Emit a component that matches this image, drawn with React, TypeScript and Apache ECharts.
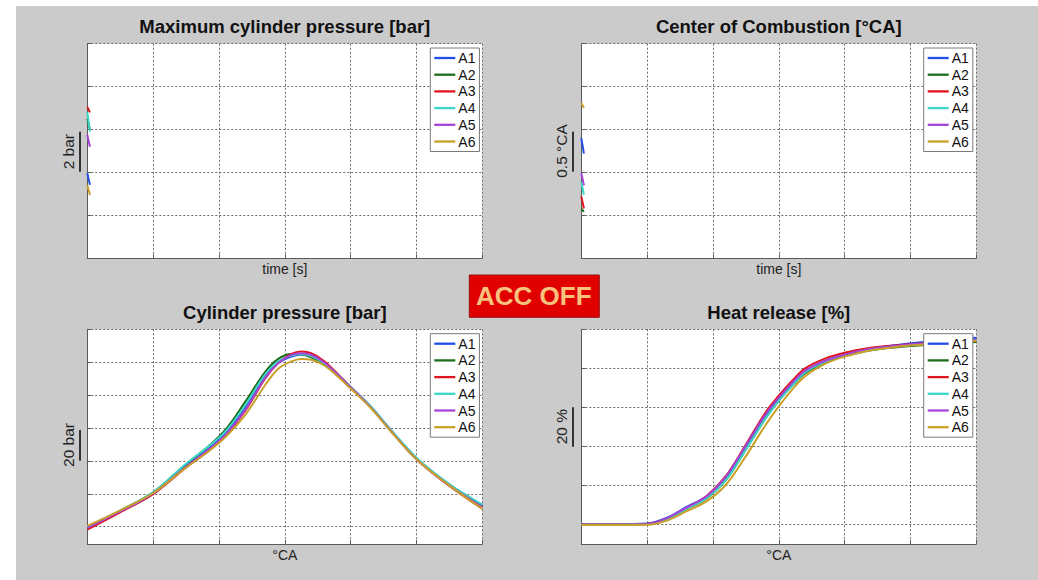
import React, { useEffect, useRef } from "react";
import * as echarts from "echarts";

const NAMES = ["A1", "A2", "A3", "A4", "A5", "A6"];
const COLORS = ["#1f4fe6", "#1c6e1c", "#e0141c", "#3ad6c8", "#a644d6", "#c9a128"];

// Top-left: maximum cylinder pressure [bar] vs time [s]
const TIME = [0, 0.4];
const PMAX_A1 = [63.97, 63.42];
const PMAX_A2 = [66.5, 66.0];
const PMAX_A3 = [67.05, 66.8];
const PMAX_A4 = [66.8, 65.9];
const PMAX_A5 = [65.75, 65.2];
const PMAX_A6 = [63.42, 62.95];

// Top-right: center of combustion [°CA] vs time [s]
const COC_A1 = [6.4, 6.22];
const COC_A2 = [5.58, 5.54];
const COC_A3 = [5.72, 5.58];
const COC_A4 = [5.89, 5.74];
const COC_A5 = [5.99, 5.85];
const COC_A6 = [6.81, 6.75];

// Bottom-left: cylinder pressure [bar] vs crank angle
const CA_P = [-30, -25, -20, -15, -12, -9, -6, -3, -1, 1, 2.5, 4, 6, 8, 10, 13, 16, 20, 25, 30];
const P_A1 = [19.3, 29.5, 40.5, 57, 66, 77, 93, 111.5, 119.5, 123.5, 124.5, 123.5, 119, 112, 104.5, 93, 79, 61.5, 45.5, 33.2];
const P_A2 = [19.5, 29.8, 40.8, 58, 67.5, 79, 96, 114, 122, 125, 124.8, 123, 118.8, 112, 104.5, 92.8, 78.8, 61.3, 45.3, 32.5];
const P_A3 = [18.3, 28.8, 39.8, 56, 65, 75.5, 90.5, 110, 119.5, 125, 126.5, 125.5, 120.5, 113, 105, 93, 79, 61, 44.8, 31];
const P_A4 = [19.5, 29.8, 41, 58.3, 67.5, 78, 94, 112.5, 120.5, 124, 124.8, 123.8, 119.3, 112.5, 105, 93.5, 79.5, 62, 46, 33.5];
const P_A5 = [19.3, 29.3, 40.3, 56.5, 65.5, 76, 91, 110.5, 119.5, 124.5, 125.5, 124.5, 119.8, 112.5, 104.8, 92.8, 78.8, 61, 45, 32];
const P_A6 = [20.5, 30, 40.5, 56, 64.5, 74.5, 88, 106, 116, 120.5, 122, 121.5, 118, 111.5, 104, 92.5, 78.5, 61, 45, 31];

// Bottom-right: heat release [%] vs crank angle
const CA_H = [-30, -25, -20, -17, -14, -11, -8, -5, -2, 0, 2, 4, 7, 10, 14, 18, 22, 26, 30];
const H_A1 = [0.2, 0.2, 0.5, 3.5, 9, 14.5, 24.5, 40, 56, 64.5, 72, 78.5, 83.8, 87, 90.2, 92, 93.5, 94.8, 95.7];
const H_A2 = [0, 0, 0.2, 2.8, 8, 13.3, 23, 38.5, 54.5, 63.5, 71, 77.5, 83, 86.3, 89.3, 90.8, 91.9, 92.8, 93.5];
const H_A3 = [0, 0, 0.3, 3, 8.5, 14.5, 25, 41, 57.5, 66, 73.5, 80, 85, 88, 90.5, 91.8, 92.8, 93.5, 94.2];
const H_A4 = [0, 0, 0.2, 2.5, 8, 13.5, 23, 38.5, 54.5, 63.5, 71, 78, 83.3, 86.8, 89.8, 91.3, 92.4, 93.3, 94.3];
const H_A5 = [0, 0, 0.3, 3.2, 8.7, 14.3, 24.8, 40.5, 56.5, 65, 72.5, 78.8, 83.8, 87, 90, 91.6, 92.8, 93.6, 94.4];
const H_A6 = [-0.3, -0.3, -0.2, 2, 6.8, 11.8, 20.5, 35, 51, 60.5, 69, 76, 82.3, 86, 89.3, 91, 92.2, 93.2, 94];

const TITLES = [
  "Maximum cylinder pressure [bar]",
  "Center of Combustion [°CA]",
  "Cylinder pressure [bar]",
  "Heat release [%]",
];
const X_NAMES = ["time [s]", "time [s]", "°CA", "°CA"];
const SCALE_LABELS = ["2 bar", "0.5 °CA", "20 bar", "20 %"];

const FONT = "'Liberation Sans', Arial, Helvetica, sans-serif";

export default function App() {
  const ref = useRef<HTMLDivElement>(null);

  useEffect(() => {
    if (!ref.current) return;
    const chart = echarts.init(ref.current, undefined, { renderer: "svg" });

    const grids = [
      { left: 87.3, top: 43.7, width: 395, height: 214.6 },
      { left: 581.3, top: 43.7, width: 395, height: 214.6 },
      { left: 87.3, top: 329.3, width: 395, height: 214.7 },
      { left: 581.3, top: 329.3, width: 395, height: 214.7 },
    ];

    const splitLine = { show: true, showMinLine: true, showMaxLine: true, lineStyle: { color: "#6a6a6a", type: [2, 2], width: 1 } };
    const axisLine = { show: true, onZero: false, lineStyle: { color: "#5a5a5a", width: 1 } };
    const axisTick = { show: true, inside: true, length: 4, lineStyle: { color: "#5a5a5a" } };

    const xAxes = grids.map((_, i) => ({
      type: "value",
      gridIndex: i,
      min: i < 2 ? 0 : -30,
      max: i < 2 ? 60 : 30,
      interval: 10,
      axisLabel: { show: false },
      axisLine,
      axisTick,
      splitLine,
      name: X_NAMES[i],
      nameLocation: "middle",
      nameGap: 4,
      nameTextStyle: { color: "#222", fontSize: 14, fontFamily: FONT, verticalAlign: "top" },
    }));

    const yAxes = [
      { min: 60, max: 70, interval: 2 },
      { min: 5, max: 7.5, interval: 0.5 },
      { min: 9.5, max: 140, minInterval: 20, maxInterval: 20 },
      { min: -10, max: 100, minInterval: 20, maxInterval: 20 },
    ].map((a, i) => ({
      type: "value",
      gridIndex: i,
      ...a,
      axisLabel: { show: false },
      axisLine,
      axisTick,
      splitLine,
    }));

    const topL = [PMAX_A1, PMAX_A2, PMAX_A3, PMAX_A4, PMAX_A5, PMAX_A6];
    const topR = [COC_A1, COC_A2, COC_A3, COC_A4, COC_A5, COC_A6];
    const botL = [P_A1, P_A2, P_A3, P_A4, P_A5, P_A6];
    const botR = [H_A1, H_A2, H_A3, H_A4, H_A5, H_A6];

    const series: any[] = [];
    const addSet = (sets: number[][], xs: number[], gi: number, smooth: number | boolean) => {
      sets.forEach((vals, k) => {
        series.push({
          type: "line",
          name: NAMES[k],
          xAxisIndex: gi,
          yAxisIndex: gi,
          data: vals.map((v, j) => [xs[j], v]),
          symbol: "none",
          smooth,
          lineStyle: { width: 2, color: COLORS[k] },
          itemStyle: { color: COLORS[k] },
          emphasis: { disabled: true },
          z: 2,
        });
      });
    };
    addSet(topL, TIME, 0, false);
    addSet(topR, TIME, 1, false);
    addSet(botL, CA_P, 2, 0.35);
    addSet(botR, CA_H, 3, 0.35);

    const legendPos = [
      { left: 430.3, top: 48 },
      { left: 923.7, top: 48 },
      { left: 430.3, top: 333.7 },
      { left: 923.7, top: 333.7 },
    ];
    const legends = legendPos.map((p) => ({
      ...p,
      orient: "vertical",
      data: NAMES,
      icon: "path://M0,0H22V2.4H0Z",
      symbolKeepAspect: true,
      backgroundColor: "#ffffff",
      borderColor: "#7a7a7a",
      borderWidth: 1,
      borderRadius: 0,
      padding: [3, 4, 3, 4],
      itemWidth: 21,
      itemHeight: 14,
      itemGap: 2.7,
      selectedMode: false,
      textStyle: { color: "#111", fontSize: 14, fontFamily: FONT, padding: [0, 0, 0, -2] },
    }));

    const titlePos = [
      [284.8, 26.7],
      [778.8, 26.7],
      [284.8, 312.7],
      [778.8, 312.7],
    ];
    const scalePos = [
      { tx: 68.3, ty: 151.7, lx: 80, y1: 131.7, y2: 171.7 },
      { tx: 561.3, ty: 151, lx: 573, y1: 131.7, y2: 171.7 },
      { tx: 68.3, ty: 445, lx: 80, y1: 430, y2: 460.7 },
      { tx: 561.3, ty: 426.7, lx: 573, y1: 407.3, y2: 446.7 },
    ];

    const graphic: any[] = [];
    TITLES.forEach((t, i) => {
      graphic.push({
        type: "text",
        x: titlePos[i][0],
        y: titlePos[i][1],
        style: { text: t, fontSize: 18.5, fontWeight: "bold", fill: "#111", fontFamily: FONT, align: "center", verticalAlign: "middle" },
      });
    });
    SCALE_LABELS.forEach((t, i) => {
      const s = scalePos[i];
      graphic.push({
        type: "text",
        x: s.tx,
        y: s.ty,
        rotation: Math.PI / 2,
        style: { text: t, fontSize: 15.5, fill: "#222", fontFamily: FONT, align: "center", verticalAlign: "middle" },
      });
      graphic.push({
        type: "line",
        shape: { x1: s.lx, y1: s.y1, x2: s.lx, y2: s.y2 },
        style: { stroke: "#333", lineWidth: 2 },
      });
    });
    graphic.push({
      type: "group",
      x: 469.3,
      y: 275,
      children: [
        { type: "rect", shape: { x: 0, y: 0, width: 130, height: 42.3 }, style: { fill: "#e10000", stroke: "#9a1010", lineWidth: 1 } },
        {
          type: "text",
          x: 64.5,
          y: 21,
          style: { text: "ACC OFF", fontSize: 26, fontWeight: "bold", fill: "#f7c27c", fontFamily: FONT, align: "center", verticalAlign: "middle" },
        },
      ],
    });

    chart.setOption({
      animation: false,
      backgroundColor: "transparent",
      textStyle: { fontFamily: FONT },
      grid: grids.map((g) => ({ ...g, show: true, backgroundColor: "#ffffff", borderWidth: 0, containLabel: false })),
      xAxis: xAxes,
      yAxis: yAxes,
      legend: legends,
      series,
      graphic,
    });

    return () => chart.dispose();
  }, []);

  return (
    <div style={{ position: "absolute", left: 0, top: 0, width: 1038, height: 580, background: "#ffffff" }}>
      <div style={{ position: "absolute", left: 16, top: 6, width: 1022, height: 574, background: "#cbcbcb" }} />
      <div ref={ref} style={{ position: "absolute", left: 0, top: 0, width: 1038, height: 580 }} />
    </div>
  );
}
